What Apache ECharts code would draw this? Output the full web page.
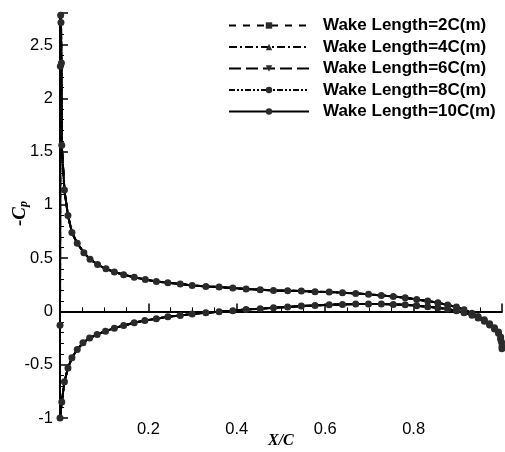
<!DOCTYPE html>
<html>
<head>
<meta charset="utf-8">
<script src="https://cdn.jsdelivr.net/npm/echarts@6/dist/echarts.min.js"></script>
<style>html,body{margin:0;padding:0;background:#fff;}#c{width:505px;height:452px;}</style>
</head>
<body>
<div id="c"></div>
<script>
// Upper surface (-Cp) vs X/C
var xUpper = [0,0.0008,0.0015,0.0022,0.0032,0.004,0.010,0.018,0.027,0.039,
  0.054,0.068,0.085,0.104,0.123,0.144,0.168,0.193,0.218,0.244,
  0.272,0.299,0.330,0.360,0.391,0.421,0.453,0.483,0.515,0.546,
  0.577,0.609,0.639,0.669,0.698,0.727,0.754,0.781,0.807,0.832,
  0.855,0.877,0.897,0.914,0.932,0.946,0.960,0.972,0.983,0.992,
  0.997,0.999,1.0];
var cpUpper = [-0.13,2.30,2.78,2.71,2.33,1.56,1.14,0.90,0.74,0.64,
  0.55,0.49,0.44,0.40,0.37,0.345,0.32,0.30,0.28,0.27,
  0.257,0.244,0.235,0.228,0.219,0.21,0.204,0.197,0.194,0.191,
  0.185,0.182,0.176,0.169,0.160,0.150,0.141,0.128,0.113,0.097,
  0.082,0.060,0.041,0.016,-0.016,-0.047,-0.078,-0.116,-0.153,-0.194,
  -0.24,-0.29,-0.33];
// Lower surface
var xLower = [0,0.004,0.010,0.018,0.027,0.039,0.052,0.067,0.084,0.103,
  0.123,0.144,0.168,0.192,0.218,0.244,0.272,0.299,0.330,0.360,
  0.391,0.421,0.453,0.483,0.515,0.546,0.577,0.609,0.639,0.669,
  0.698,0.727,0.754,0.781,0.807,0.832,0.855,0.877,0.897,0.914,
  0.932,0.946,0.960,0.972,0.983,0.992,0.997,1.0];
var cpLower = [-1.0,-0.85,-0.66,-0.53,-0.435,-0.357,-0.294,-0.25,-0.216,-0.185,
  -0.157,-0.132,-0.106,-0.085,-0.069,-0.05,-0.038,-0.025,-0.012,-0.003,
  0.006,0.019,0.025,0.035,0.041,0.05,0.056,0.063,0.066,0.069,
  0.069,0.069,0.066,0.063,0.053,0.044,0.035,0.022,0.006,-0.013,
  -0.035,-0.062,-0.093,-0.128,-0.165,-0.205,-0.26,-0.35];

var seriesNames = ['Wake Length=2C(m)','Wake Length=4C(m)','Wake Length=6C(m)','Wake Length=8C(m)','Wake Length=10C(m)'];
var xTicksShown = [0.2,0.4,0.6,0.8];
var yTicksShown = [-1,-0.5,0,0.5,1,1.5,2,2.5];

var styles = [
  {dash:[7,7], symbol:'rect', size:4},
  {dash:[8,3,2,3], symbol:'triangle', size:5},
  {dash:[12,5], symbol:'path://M0,0L10,0L5,9Z', size:5},
  {dash:[6,2,2,2,2,2], symbol:'circle', size:7},
  {dash:'solid', symbol:'circle', size:3}
];

function pair(xs, ys){ return xs.map(function(x,i){ return [x, ys[i]]; }); }

var series = [];
seriesNames.forEach(function(n, k){
  var s = styles[k];
  [pair(xUpper,cpUpper), pair(xLower,cpLower)].forEach(function(d){
    series.push({
      name:n, type:'line', data:d, clip:false,
      symbol:s.symbol, symbolSize:s.size, showSymbol:true,
      lineStyle:{color:'#000', width:2, type:s.dash},
      itemStyle:{color:'#2b2b2b', borderWidth:0},
      emphasis:{disabled:true}, animation:false
    });
  });
});

var chart = echarts.init(document.getElementById('c'), null, {renderer:'canvas'});
chart.setOption({
  animation:false,
  backgroundColor:'#fff',
  grid:{left:60, right:2, top:13, bottom:34, containLabel:false},
  legend:{
    data:seriesNames, orient:'vertical', left:228, top:17, padding:0,
    itemWidth:80, itemHeight:8, itemGap:4.5,
    textStyle:{fontFamily:'Liberation Sans, Arial', fontWeight:'bold', fontSize:17, lineHeight:16, color:'#000', padding:[0,0,0,9]},
    selectedMode:false
  },
  xAxis:{
    type:'value', min:0, max:1, interval:0.2,
    axisLine:{lineStyle:{color:'#000', width:2}},
    axisTick:{inside:true, length:8, lineStyle:{color:'#000', width:1.5}},
    minorTick:{show:true, splitNumber:4, length:4, lineStyle:{color:'#000', width:1}},
    splitLine:{show:false},
    axisLabel:{fontFamily:'Liberation Sans, Arial', fontSize:16.5, color:'#000', margin:3,
      formatter:function(v){ return xTicksShown.some(function(t){return Math.abs(t-v)<1e-9;}) ? String(v) : ''; }}
  },
  yAxis:{
    type:'value', min:-1, max:2.8, interval:0.5,
    axisLine:{show:true, lineStyle:{color:'#000', width:2}},
    axisTick:{show:true, inside:true, length:8, lineStyle:{color:'#000', width:1.5}},
    minorTick:{show:true, splitNumber:5, length:4, lineStyle:{color:'#000', width:1}},
    splitLine:{show:false},
    axisLabel:{fontFamily:'Liberation Sans, Arial', fontSize:16.5, color:'#000', margin:7,
      formatter:function(v){ return yTicksShown.some(function(t){return Math.abs(t-v)<1e-9;}) ? String(v) : ''; }}
  },
  graphic:[
    {type:'text', left:268, top:433, style:{text:'X/C', font:'bold italic 16px "Liberation Serif", serif', fill:'#000'}},
    {type:'text', x:11, y:226, rotation:Math.PI/2,
      style:{text:'-{c|C}{p|p}', fill:'#000', font:'bold italic 19px "Liberation Serif", serif',
        rich:{c:{font:'bold italic 19px "Liberation Serif", serif', fill:'#000'},
              p:{font:'bold italic 12px "Liberation Serif", serif', fill:'#000', verticalAlign:'bottom', padding:[7,0,0,0]}}}}
  ],
  series:series
});
</script>
</body>
</html>
